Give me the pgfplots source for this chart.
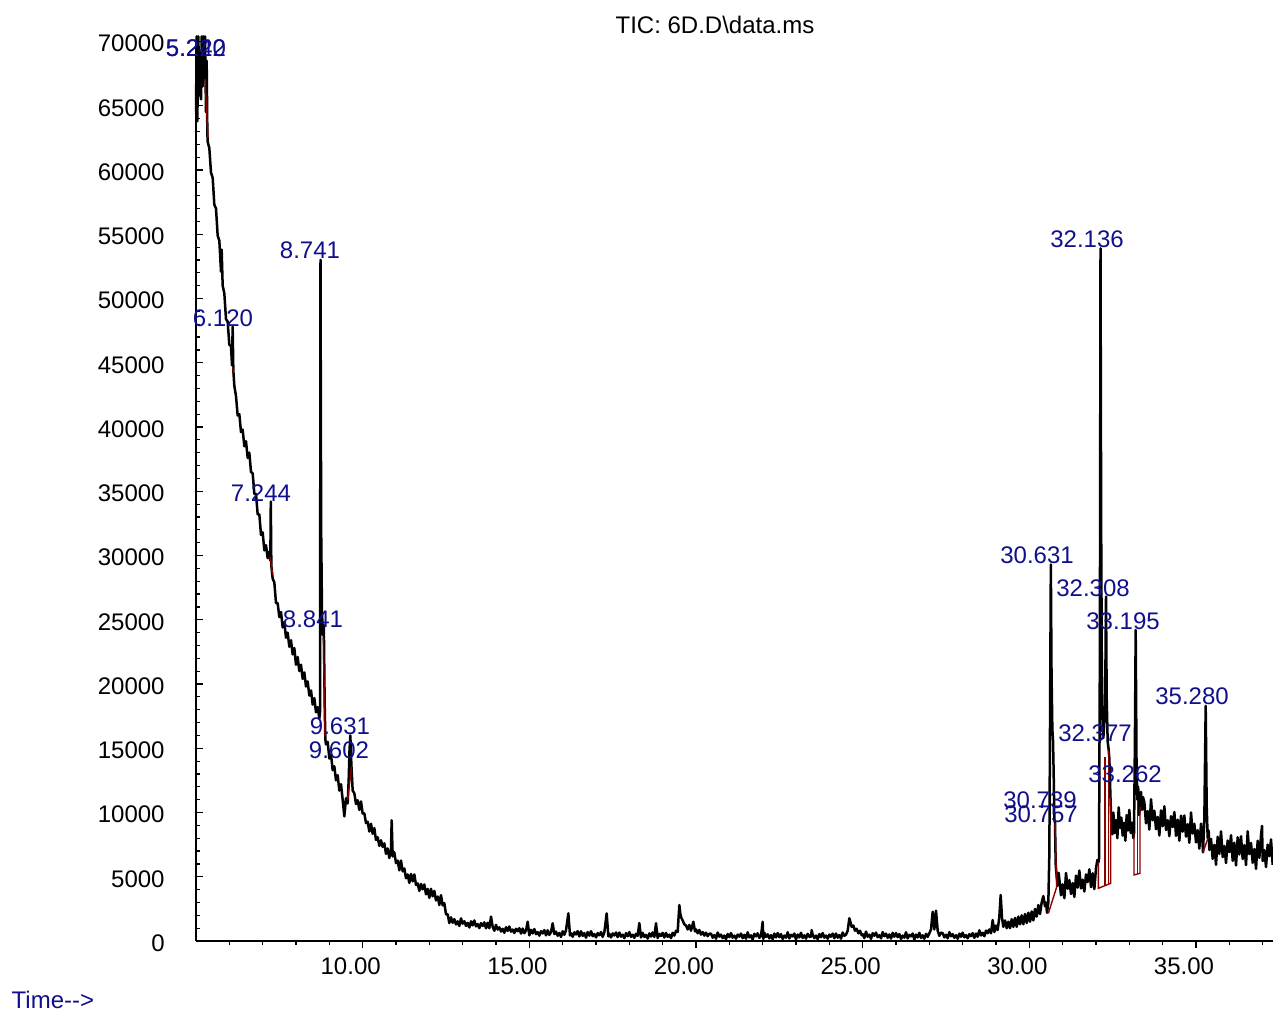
\documentclass[border=0pt]{standalone}
\usepackage{fontspec}
\setmainfont{Liberation Sans}
\usepackage{pgfplots}
\pgfplotsset{compat=1.18}
\definecolor{lbl}{RGB}{16,16,140}
\definecolor{intg}{RGB}{140,0,0}
\begin{document}
\fontsize{12}{14}\selectfont
\begin{tikzpicture}
\path[use as bounding box] (0,0) rectangle (636.5pt,506pt);
\begin{axis}[
  at={(98pt,35.5pt)}, anchor=south west,
  scale only axis, width=538.5pt, height=449.75pt,
  xmin=5, xmax=37.31, ymin=0, ymax=70000,
  axis lines*=left,
  axis line style={line width=0.8pt, black},
  xtick={10,15,20,25,30,35},
  xticklabels={10.00,15.00,20.00,25.00,30.00,35.00},
  minor xtick={6,7,...,37},
  ytick={0,5000,10000,15000,20000,25000,30000,35000,40000,45000,50000,55000,60000,65000,70000},
  yticklabels={0,5000,10000,15000,20000,25000,30000,35000,40000,45000,50000,55000,60000,65000,70000},
  minor ytick={1000,2000,...,69000},
  scaled y ticks=false,
  tick align=inside,
  major tick length=3.5pt, minor tick length=2pt,
  tick style={line width=0.6pt, black},
  major x tick style={yshift=-3.5pt},
  minor x tick style={yshift=-2pt},
  xticklabel style={anchor=center, inner sep=0pt, yshift=-12.5pt, xshift=-6pt},
  yticklabel style={anchor=east, inner sep=0pt, xshift=-15.5pt, yshift=-1pt},
  every tick label/.append style={font=\fontsize{12}{14}\selectfont},
  clip=false,
]
% total ion current trace
\addplot[black, line width=1.25pt, line join=round] coordinates {
(5.00,64500) (5.02,70400) (5.04,63800) (5.07,70400) (5.10,65800) (5.13,69000) (5.15,65500) (5.17,70400) (5.20,66500) (5.22,70400) (5.245,67200) (5.27,70400) (5.30,64500) (5.32,68500) (5.34,63000)
(5.35,62200) (5.40,61700) (5.45,59800) (5.50,59400) (5.55,57300) (5.60,57000) (5.65,54900) (5.70,54500) (5.75,52100) (5.77,53800) (5.80,51000) (5.85,50400) (5.90,48400) (5.95,48200) (6.00,46400) (6.05,46300) (6.08,44800) (6.10,47800) (6.12,44400) (6.15,43200) (6.20,42400) (6.25,40900) (6.30,41000) (6.35,39600) (6.40,39800) (6.45,38500) (6.50,38900) (6.55,37600) (6.60,38000) (6.65,36500) (6.70,36400) (6.75,34800) (6.80,34800) (6.85,33200) (6.90,33200) (6.95,31600) (7.00,31800) (7.05,30400) (7.10,30800) (7.15,29800) (7.20,30300) (7.23,29600) (7.244,34200) (7.26,29200) (7.30,28200) (7.35,27900) (7.40,26300) (7.45,26300) (7.50,25200) (7.55,25600) (7.60,24400) (7.65,24800) (7.70,23600) (7.75,24000) (7.80,22900) (7.85,23400) (7.90,22300) (7.95,22800) (8.00,21500) (8.05,22100) (8.10,21000) (8.15,21500) (8.20,20400) (8.25,20900) (8.30,19800) (8.35,20200) (8.40,19100) (8.45,19500) (8.50,18400) (8.55,18900) (8.60,17800) (8.65,18200) (8.70,17300) (8.72,17800)
(8.735,53000) (8.755,32000) (8.78,25500) (8.81,23800) (8.835,24600) (8.86,18500) (8.88,15700) (8.90,15300) (8.95,15500) (9.00,14200) (9.05,14500) (9.10,13300) (9.15,13600) (9.20,12500) (9.25,12900) (9.30,11700) (9.35,12200) (9.40,11000) (9.45,9700) (9.50,11100) (9.55,10700) (9.58,12500) (9.605,14800) (9.63,16000) (9.66,13800) (9.70,11700)
(9.75,11500) (9.80,10660) (9.85,10960) (9.90,10200) (9.95,10860) (10.00,9920) (10.05,9940) (10.10,9180) (10.15,9280) (10.20,8520) (10.25,9120) (10.30,8340) (10.35,8780) (10.40,7860) (10.45,8080) (10.50,7400) (10.55,7840) (10.60,7320) (10.65,7600) (10.70,6780) (10.75,7200) (10.80,6460) (10.85,7160) (10.87,9400) (10.90,6580) (10.95,6900) (11.00,6060) (11.05,6260) (11.10,5500) (11.15,6260) (11.20,5420) (11.25,5640) (11.30,4880) (11.35,5180) (11.40,4520) (11.45,5220) (11.50,4640) (11.55,5180) (11.60,4360) (11.65,4480) (11.70,3900) (11.75,4440) (11.80,4020) (11.85,4400) (11.90,3630) (11.95,4050) (12.00,3360) (12.05,4060) (12.10,3480) (12.15,3900) (12.20,3160) (12.25,3460) (12.30,2800) (12.35,3560) (12.40,2770) (12.45,2940) (12.50,2080) (12.55,2080) (12.60,1400) (12.65,1840) (12.70,1420)
(12.75,1700) (12.80,1290) (12.85,1530) (12.90,1170) (12.95,1760) (13.00,1350) (13.05,1540) (13.10,1170) (13.15,1410) (13.20,1050) (13.25,1530) (13.30,1220) (13.35,1600) (13.40,1140) (13.45,1320) (13.50,1000) (13.55,1390) (13.60,1170) (13.65,1450) (13.70,990) (13.75,1420) (13.80,1000) (13.85,1900) (13.90,1100) (13.95,800)
(14.00,1250) (14.05,890) (14.10,1060) (14.15,740) (14.20,950) (14.25,640) (14.30,1070) (14.35,790) (14.40,1130) (14.45,730) (14.50,890) (14.55,620) (14.60,950) (14.65,760) (14.70,1000) (14.75,580) (14.80,970) (14.85,610) (14.90,810) (14.95,1500)
(15.00,440) (15.05,870) (15.10,590) (15.15,930) (15.20,530) (15.25,690) (15.30,420) (15.35,765) (15.40,590) (15.45,845) (15.50,440) (15.55,835) (15.60,480) (15.65,695) (15.70,1380) (15.75,540) (15.80,725) (15.85,410) (15.90,625) (15.95,320)
(16.00,760) (16.05,485) (16.10,830) (16.17,2150) (16.22,430) (16.25,600) (16.30,335) (16.35,680) (16.40,510) (16.45,765) (16.50,360) (16.55,755) (16.60,400) (16.65,615) (16.70,260) (16.75,695) (16.80,420) (16.85,765) (16.90,375) (16.95,540)
(17.00,280) (17.05,615) (17.10,450) (17.15,690) (17.20,325) (17.25,680) (17.32,2150) (17.37,360) (17.40,555) (17.45,275) (17.50,590) (17.55,430) (17.60,665) (17.65,305) (17.70,660) (17.75,340) (17.80,495) (17.85,215) (17.90,610) (17.95,370)
(18.00,690) (18.05,328) (18.10,486) (18.15,244) (18.20,562) (18.25,400) (18.30,1400) (18.35,278) (18.40,636) (18.45,314) (18.50,472) (18.55,190) (18.60,590) (18.65,350) (18.70,670) (18.75,310) (18.80,1380) (18.85,230) (18.90,550) (18.95,390)
(19.00,630) (19.05,270) (19.10,630) (19.15,320) (19.20,490) (19.25,220) (19.30,640) (19.35,420) (19.40,800) (19.45,700) (19.50,2800) (19.53,2100) (19.56,1800) (19.60,1600) (19.65,1300) (19.70,1200) (19.75,900) (19.80,1250) (19.85,800) (19.92,1500) (19.97,750)
(20.00,900) (20.05,600) (20.10,850) (20.15,500) (20.20,700) (20.25,420) (20.30,650) (20.35,380) (20.40,560) (20.45,580) (20.50,260) (20.55,460) (20.60,180) (20.65,660) (20.70,340) (20.75,500) (20.80,220) (20.85,420) (20.90,140) (20.95,540)
(21.00,300) (21.05,620) (21.10,260) (21.15,420) (21.20,180) (21.25,500) (21.30,340) (21.35,580) (21.40,220) (21.45,480) (21.50,180) (21.55,680) (21.60,280) (21.65,440) (21.70,120) (21.75,560) (21.80,360) (21.85,600) (21.90,240) (21.95,400)
(22.00,1500) (22.02,160) (22.05,640) (22.10,320) (22.15,520) (22.20,200) (22.25,460) (22.30,140) (22.35,580) (22.40,280) (22.45,620) (22.50,300) (22.55,540) (22.60,160) (22.65,420) (22.70,260) (22.75,680) (22.80,200) (22.85,480) (22.90,360) (22.95,580)
(23.00,120) (23.05,500) (23.10,280) (23.15,640) (23.20,240) (23.25,440) (23.30,180) (23.35,560) (23.40,320) (23.45,340) (23.47,850) (23.50,500) (23.55,220) (23.60,420) (23.65,140) (23.70,540) (23.75,300) (23.80,620) (23.85,260) (23.90,420) (23.95,180)
(24.00,500) (24.05,340) (24.10,580) (24.15,220) (24.20,580) (24.25,260) (24.30,460) (24.35,180) (24.40,660) (24.45,400) (24.50,500) (24.55,800) (24.60,1770) (24.63,1500) (24.67,1100) (24.72,1200) (24.77,800) (24.82,950) (24.87,600) (24.92,800) (24.97,450)
(25.00,530) (25.05,230) (25.10,730) (25.15,330) (25.20,490) (25.25,170) (25.30,610) (25.35,410) (25.40,650) (25.45,290) (25.50,450) (25.55,210) (25.60,690) (25.65,370) (25.70,570) (25.75,250) (25.80,510) (25.85,190) (25.90,630) (25.95,330)
(26.00,620) (26.05,300) (26.10,540) (26.15,160) (26.20,420) (26.25,260) (26.30,680) (26.35,200) (26.40,480) (26.45,360) (26.50,580) (26.55,120) (26.60,500) (26.65,280) (26.70,640) (26.75,240) (26.80,440) (26.85,180) (26.90,560) (26.95,320)
(27.00,600) (27.05,900) (27.10,2280) (27.15,900) (27.20,2360) (27.25,800) (27.30,400) (27.35,650) (27.40,610) (27.45,290) (27.50,490) (27.55,210) (27.60,690) (27.65,370) (27.70,530) (27.75,250) (27.80,450) (27.85,170) (27.90,570) (27.95,330)
(28.00,650) (28.05,290) (28.10,450) (28.15,210) (28.20,530) (28.25,370) (28.30,610) (28.35,250) (28.40,580) (28.45,330) (28.50,830) (28.55,430) (28.60,640) (28.65,370) (28.70,810) (28.75,610) (28.80,900) (28.85,600) (28.90,1630) (28.95,700)
(29.00,1200) (29.05,850) (29.10,1900) (29.14,3580) (29.18,1800) (29.22,1100) (29.27,1600) (29.32,1000) (29.37,1500) (29.42,1000) (29.47,1700) (29.52,1100) (29.57,1800) (29.62,1100) (29.67,1900) (29.72,1300) (29.77,2000) (29.82,1300) (29.87,2100) (29.92,1400) (29.97,2200) (30.02,1500) (30.07,2300) (30.12,1600) (30.17,2500) (30.22,1900) (30.27,2800) (30.32,2100) (30.37,3000) (30.42,3500) (30.47,2700) (30.50,3000) (30.53,2200) (30.57,3000) (30.60,6800)
(30.645,29300) (30.665,21000) (30.69,16500) (30.71,15600) (30.73,13000) (30.75,9500) (30.77,9200) (30.79,6000) (30.82,5000) (30.85,4300) (30.88,5300)
(30.90,4800) (30.95,3560) (31.00,4410) (31.05,3330) (31.10,5290) (31.15,4060) (31.20,4740) (31.25,3660) (31.30,4510) (31.35,3430) (31.40,5080) (31.45,4160) (31.50,5480) (31.55,4090) (31.60,4770) (31.65,3850) (31.70,5180) (31.75,4580) (31.80,5580) (31.85,4190) (31.90,5270) (31.95,4040) (32.00,5680) (32.04,6300) (32.07,6100)
(32.09,6400) (32.115,22000) (32.135,53900) (32.155,32000) (32.18,18000) (32.22,15800) (32.26,17500) (32.285,22000) (32.30,26800) (32.32,19000) (32.35,15500) (32.375,15000) (32.40,14200) (32.43,11500) (32.46,9000) (32.49,8300)
(32.52,10000) (32.56,8400) (32.60,9400) (32.64,8000) (32.68,10400) (32.72,8800) (32.76,9600) (32.80,8200) (32.84,9200) (32.88,7800) (32.92,9800) (32.96,8600) (33.00,10200) (33.04,8400) (33.08,9200) (33.12,8000) (33.14,8400) (33.165,15000) (33.19,24200) (33.215,14000) (33.24,11000) (33.265,12000) (33.29,9800) (33.32,10400) (33.35,11600) (33.38,10200) (33.41,11200)
(33.45,10800) (33.50,9160) (33.55,10110) (33.60,8670) (33.65,11030) (33.70,9390) (33.75,10140) (33.80,8700) (33.85,9660) (33.90,8210) (33.95,10170) (34.00,8930) (34.05,10480) (34.10,8640) (34.15,9400) (34.20,8160) (34.25,9710) (34.30,8870) (34.35,10030) (34.40,8190) (34.45,9440) (34.50,7800) (34.55,9760) (34.60,8510) (34.65,9770) (34.70,8130) (34.75,9090) (34.80,7640) (34.85,10000) (34.90,8360) (34.95,9120) (35.00,7670) (35.05,8630) (35.10,7190) (35.15,9140) (35.19,7900)
(35.21,6900) (35.25,9500) (35.29,18300) (35.32,10500) (35.35,8000) (35.38,8600)
(35.40,7080) (35.45,7950) (35.50,6390) (35.55,7480) (35.60,5930) (35.65,8110) (35.70,6780) (35.75,8530) (35.80,6530) (35.85,7400) (35.90,6070) (35.95,7820) (36.00,6920) (36.05,8230) (36.10,6240) (36.15,7650) (36.20,5880) (36.25,8070) (36.30,6730) (36.35,8150) (36.40,6380) (36.45,7460) (36.50,5910) (36.55,8540) (36.60,6760) (36.65,7630) (36.70,6080) (36.75,7160) (36.80,5610) (36.85,7800) (36.90,6460) (36.95,8210) (36.98,8950) (37.00,6220) (37.05,7080) (37.10,5750) (37.15,7500) (37.20,6600) (37.25,7910) (37.30,5920)
};
% integration baselines
\addplot[intg, line width=0.7pt] coordinates {(5.27,67100) (5.36,62500)};
\addplot[intg, line width=0.7pt] coordinates {(6.10,44700) (6.12,44200)};
\addplot[intg, line width=0.7pt] coordinates {(7.22,29900) (7.30,28500)};
\addplot[intg, line width=0.7pt] coordinates {(8.82,23600) (8.87,15900)};
\addplot[intg, line width=0.7pt] coordinates {(9.55,11000) (9.67,13600)};
\addplot[intg, line width=0.7pt] coordinates {(30.57,2150) (30.82,4200) (30.77,9200)};
\addplot[intg, line width=0.7pt] coordinates {(32.07,6150) (32.07,4100) (32.44,4490) (32.44,11200)};
\addplot[intg, line width=0.7pt] coordinates {(32.27,4300) (32.27,14300)};
\addplot[intg, line width=0.7pt] coordinates {(32.37,4400) (32.37,14900)};
\addplot[intg, line width=0.7pt] coordinates {(33.14,8400) (33.14,5140) (33.32,5270) (33.32,10450)};
\addplot[intg, line width=0.7pt] coordinates {(33.24,5220) (33.24,11000)};
\addplot[intg, line width=0.7pt] coordinates {(35.21,6900) (35.36,8000)};
% peak labels
\begin{scope}[every node/.style={text=lbl, inner sep=0pt, font=\fontsize{12}{14}\selectfont}]
\node at (axis cs:5.0,69490) {5.220};
\node at (axis cs:5.0,69490) {5.242};
\node at (axis cs:5.809,48480) {6.120};
\node at (axis cs:6.949,34860) {7.244};
\node at (axis cs:8.419,53770) {8.741};
\node at (axis cs:8.509,25060) {8.841};
\node at (axis cs:9.319,16730) {9.631};
\node at (axis cs:9.289,14860) {9.602};
\node at (axis cs:31.731,54630) {32.136};
\node at (axis cs:30.231,30040) {30.631};
\node at (axis cs:31.911,27470) {32.308};
\node at (axis cs:32.811,24900) {33.195};
\node at (axis cs:34.881,19070) {35.280};
\node at (axis cs:31.971,16190) {32.377};
\node at (axis cs:32.871,13000) {33.262};
\node at (axis cs:30.321,10970) {30.739};
\node at (axis cs:30.351,9880) {30.757};
\node at (axis cs:0.708,-4590) {Time-{}->};
\end{scope}
\node[inner sep=0pt, font=\fontsize{12}{14}\selectfont] at (axis cs:20.57,71280) {TIC: 6D.D\textbackslash data.ms};
\end{axis}
\end{tikzpicture}
\end{document}
